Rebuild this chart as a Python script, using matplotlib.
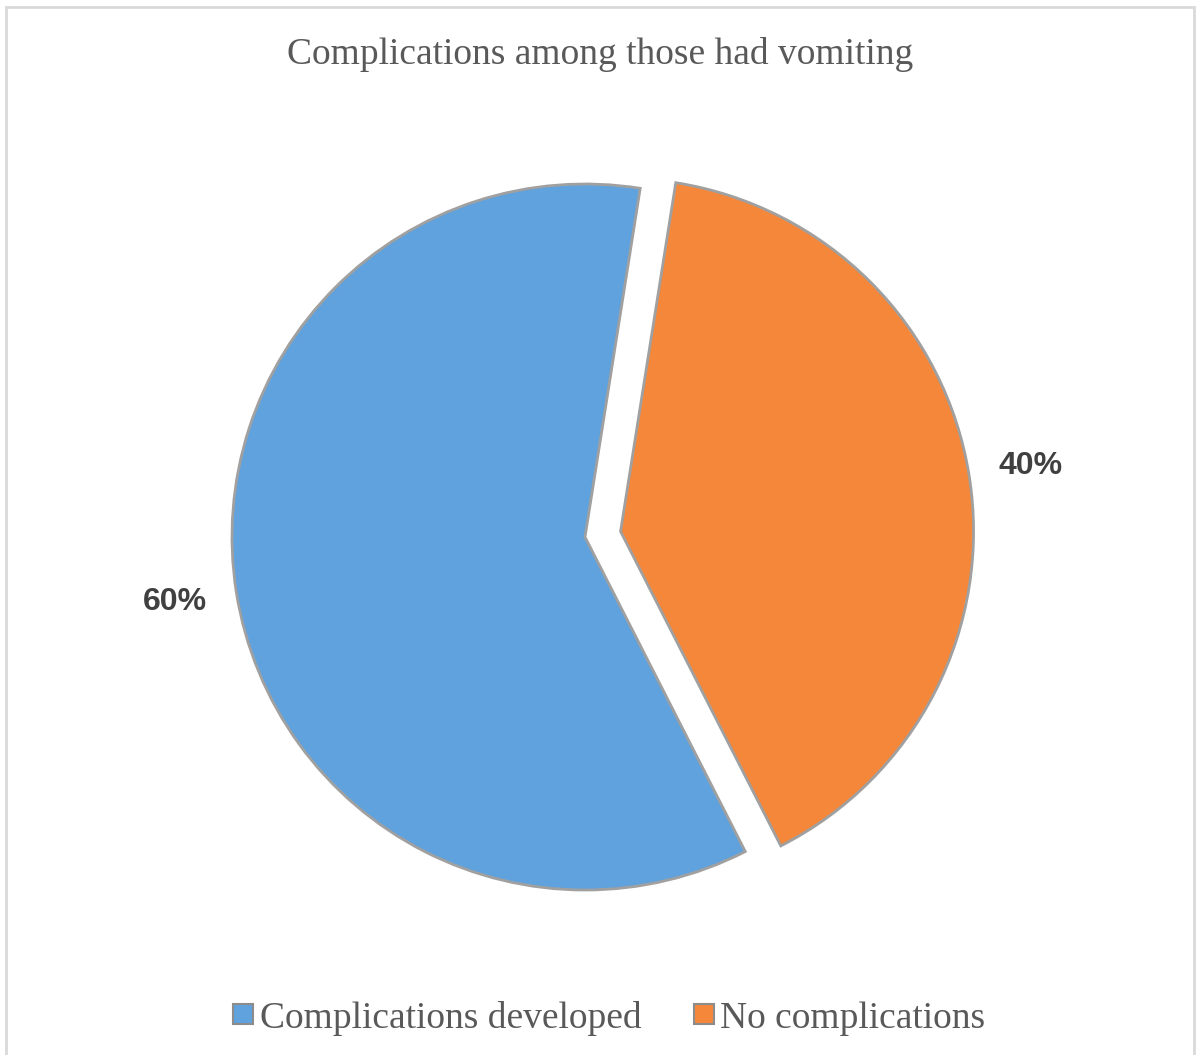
import matplotlib.pyplot as plt
from matplotlib.patches import Rectangle
from matplotlib.lines import Line2D

labels = ["Complications developed", "No complications"]
shares = [60, 40]
colors = ["#5FA2DD", "#F5873A"]

# pie drawn in pixel-sized data units, so explode is an offset in pixels
radius = 353
explode = [0, 36]

fig = plt.figure(figsize=(12, 10.55), dpi=100)
ax = fig.add_axes([0, 0, 1, 1])
ax.set_aspect("equal")
ax.axis("off")

# chart area frame
fig.patches.append(Rectangle((6 / 1200, -0.01), 1188 / 1200, 1.01 - 7 / 1055,
                             transform=fig.transFigure, fill=False,
                             edgecolor="#d9d9d9", linewidth=2))

wedges, texts, autotexts = ax.pie(
    shares, colors=colors, explode=explode, startangle=-63, counterclock=False,
    center=(585, 518), radius=radius, autopct="%d%%", pctdistance=1.175,
    wedgeprops=dict(edgecolor="#a0a0a0", linewidth=2),
    textprops=dict(fontsize=23, fontweight="bold", color="#404040",
                   family="Liberation Sans"))
ax.set_xlim(0, 1200)
ax.set_ylim(0, 1055)

fig.text(0.5, 1 - 54 / 1055, "Complications among those had vomiting",
         ha="center", va="center", fontsize=27, color="#595959",
         family="Liberation Serif")

handles = [Line2D([], [], marker="s", linestyle="none", markersize=15,
                  markerfacecolor=c, markeredgecolor="#8c8c8c", markeredgewidth=1.5)
           for c in colors]
fig.legend(handles, labels, loc="center", bbox_to_anchor=(0.505, 1 - 1018 / 1055),
           ncol=2, frameon=False, handletextpad=0.0, handlelength=0.9,
           columnspacing=1.2,
           prop=dict(family="Liberation Serif", size=27), labelcolor="#595959")

fig.savefig("out.png", dpi=100)
